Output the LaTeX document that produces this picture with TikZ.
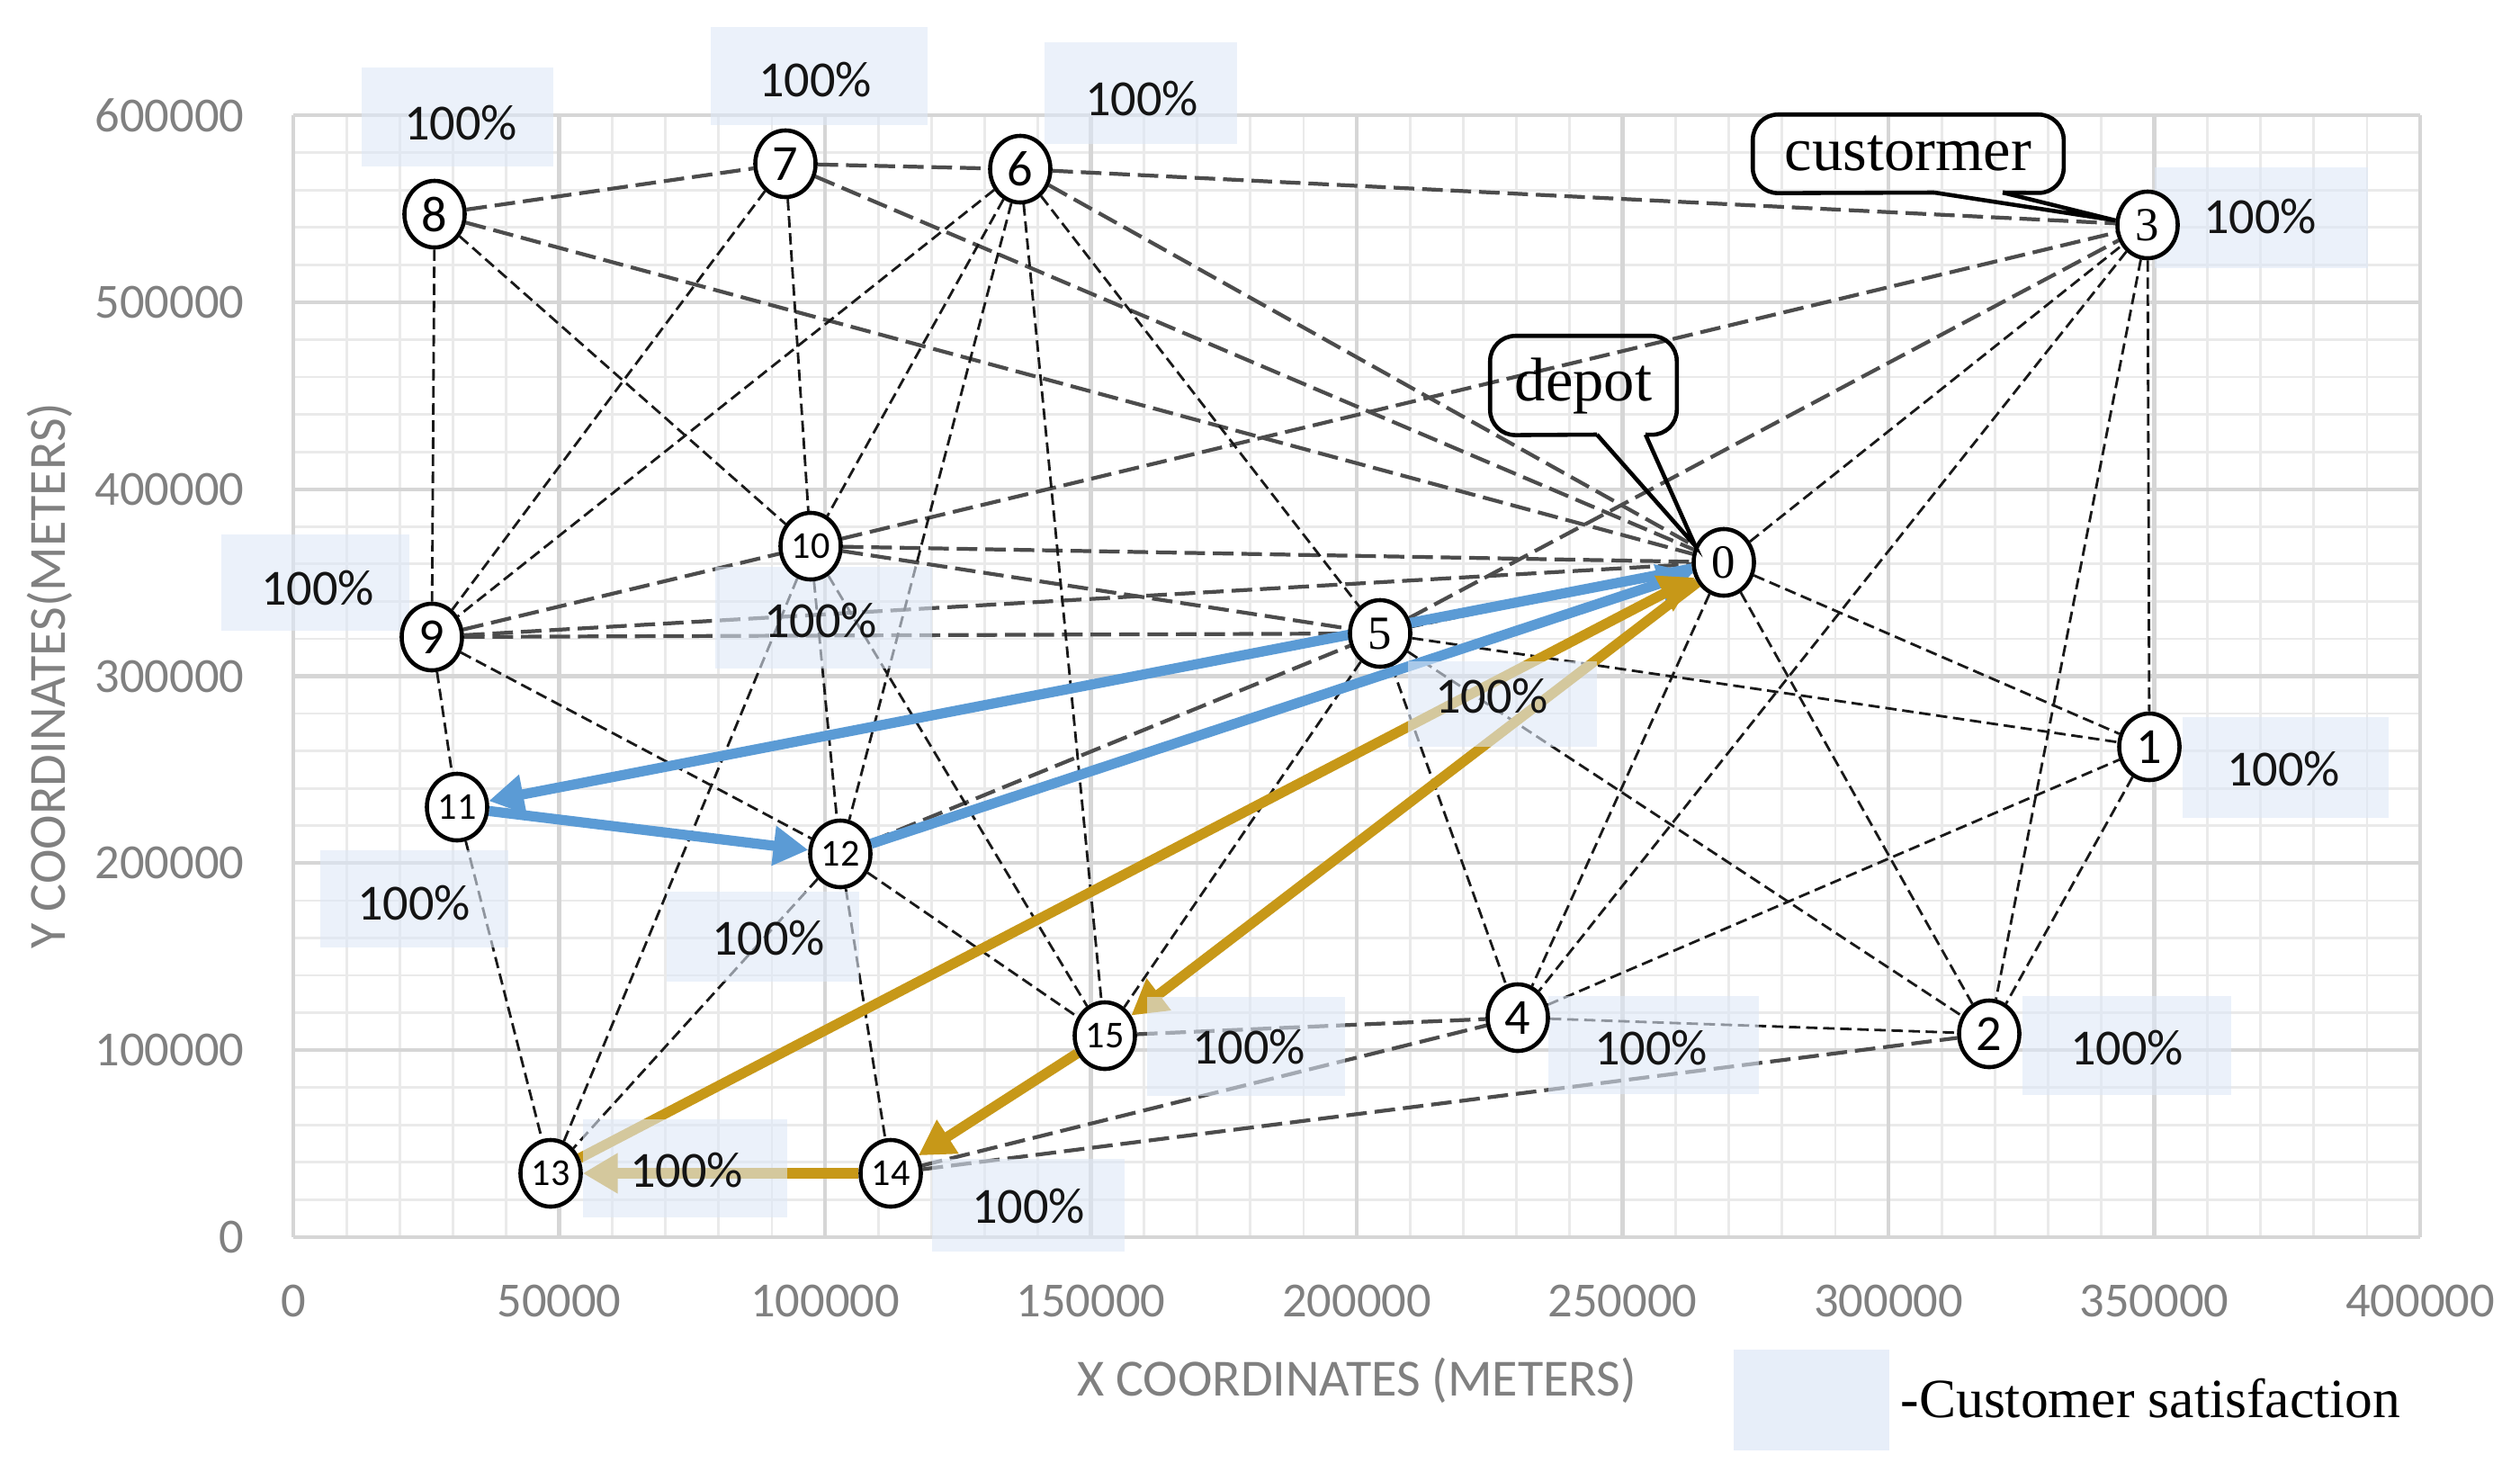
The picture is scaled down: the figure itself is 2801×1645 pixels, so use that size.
\documentclass[tikz,border=0pt]{standalone}
\usepackage{fontspec}
\setmainfont{Carlito}
\newfontfamily\tnr{Liberation Serif}
\usetikzlibrary{shapes.geometric,arrows.meta}
\pgfdeclarelayer{gridlayer}
\pgfdeclarelayer{edgelayer}
\pgfdeclarelayer{boxlayer}
\pgfsetlayers{gridlayer,edgelayer,boxlayer,main}
\definecolor{myblue}{RGB}{91,155,213}
\definecolor{mygold}{RGB}{199,152,24}
\definecolor{pale}{RGB}{222,232,247}
\definecolor{gmaj}{RGB}{214,214,214}
\definecolor{gmin}{RGB}{234,234,234}
\definecolor{tickgray}{RGB}{128,128,128}
\begin{document}
\begin{tikzpicture}[x=0.01cm,y=-0.01cm,
  cn/.style={ellipse, draw=black, line width=1.3pt, fill=white, minimum width=0.67cm, minimum height=0.74cm, inner sep=0pt, font=\fontsize{16pt}{18pt}\selectfont},
  cnb/.style={cn, font=\fontsize{12pt}{14pt}\selectfont},
  cns/.style={cn, font=\tnr\fontsize{15pt}{17pt}\selectfont},
  thk/.style={draw=black!70, line width=1.2pt, dash pattern=on 6.5pt off 2.5pt},
  thn/.style={draw=black!90, line width=0.8pt, dash pattern=on 3.6pt off 1.8pt},
  barr/.style={draw=myblue, line width=3.2pt, -{Triangle[length=11pt,width=12pt]}},
  garr/.style={draw=mygold, line width=3.2pt, -{Triangle[length=11pt,width=12pt]}},
  pbox/.style={fill=pale, fill opacity=0.6, draw=none},
  ptxt/.style={font=\fontsize{16pt}{18pt}\selectfont, text=black!92, inner sep=0pt},
  tick/.style={font=\fontsize{15.5pt}{17pt}\selectfont, text=tickgray, inner sep=0pt},
  atitle/.style={font=\fontsize{16.5pt}{18pt}\selectfont, text=tickgray, inner sep=0pt},
  gminor/.style={draw=gmin, line width=0.8pt},
  gmajor/.style={draw=gmaj, line width=1.2pt},
  callbox/.style={draw=none, minimum width=#1, inner sep=0pt, font=\tnr\fontsize{19.5pt}{22pt}\selectfont},
  outl/.style={draw=black, line width=1.3pt}
]
\useasboundingbox (0,0) rectangle (2801,1645);

% ---------- grid ----------
\begin{pgfonlayer}{gridlayer}
\fill[white] (0,0) rectangle (2801,1645);
\foreach \i in {0,...,40} \draw[gminor] ({326+\i*59.1},128) -- ({326+\i*59.1},1375);
\foreach \j in {0,...,30} \draw[gminor] (326,{1375-\j*41.5667}) -- (2690,{1375-\j*41.5667});
\foreach \i in {0,...,8} \draw[gmajor] ({326+\i*295.5},128) -- ({326+\i*295.5},1375);
\foreach \j in {0,...,6} \draw[gmajor] (326,{1375-\j*207.833}) -- (2690,{1375-\j*207.833});
\end{pgfonlayer}

% ---------- tick labels and axis titles ----------
\foreach \v [count=\k from 0] in {0,50000,100000,150000,200000,250000,300000,350000,400000}
  \node[tick] (xt\k) at ({326+\k*295.5},1446) {\v};
\foreach \v [count=\k from 0] in {0,100000,200000,300000,400000,500000,600000}
  \node[tick, anchor=east] (yt\k) at (272,{1375-\k*207.833}) {\v};
\node[atitle, rotate=90] (ytitle) at (55,751) {Y COORDINATES(METERS)};
\node[atitle] (xtitle) at (1508,1534) {X COORDINATES (METERS)};

% ---------- customer nodes ----------
\node[cns] (n0) at (1916,625) {0};
\node[cn]  (n1) at (2389,830) {1};
\node[cn]  (n2) at (2211,1149) {2};
\node[cns] (n3) at (2387,250) {3};
\node[cn]  (n4) at (1687,1131) {4};
\node[cns] (n5) at (1534,704) {5};
\node[cn]  (n6) at (1134,188) {6};
\node[cn]  (n7) at (873,182) {7};
\node[cn]  (n8) at (483,238) {8};
\node[cn]  (n9) at (480,708) {9};
\node[cnb] (n10) at (901,607) {10};
\node[cnb] (n11) at (508,897) {11};
\node[cnb] (n12) at (934,949) {12};
\node[cnb] (n13) at (612,1304) {13};
\node[cnb] (n14) at (990,1304) {14};
\node[cnb] (n15) at (1228,1151) {15};

% ---------- dashed connections ----------
\begin{pgfonlayer}{edgelayer}
\foreach \a/\b in {8/7,7/6,6/3,8/0,7/0,6/0,9/10,10/3,10/0,10/5,9/0,9/5,5/3,12/5,15/4,14/4,14/2}
  \draw[thk] (n\a) -- (n\b);
\foreach \a/\b in {8/9,8/10,7/9,7/10,6/9,6/10,6/12,6/15,6/5,9/11,9/12,11/13,10/13,12/13,10/12,12/14,12/15,10/15,5/15,5/4,5/0,5/1,5/2,0/3,0/1,0/2,0/4,3/4,3/2,3/1,4/1,4/2,1/2}
  \draw[thn] (n\a) -- (n\b);
% routes
\draw[barr] (n0) -- (n11);
\draw[barr] (n11) -- (n12);
\draw[barr] (n12) -- (n0);
\draw[garr] (n0) -- (n15);
\draw[garr] (n15) -- (n14);
\draw[garr] (n14) -- (n13);
\draw[garr] (n13) -- (n0);
\end{pgfonlayer}

% ---------- satisfaction boxes ----------
\begin{pgfonlayer}{boxlayer}
\fill[pbox] (402,75) rectangle (615,185);
\fill[pbox] (790,30) rectangle (1031,139);
\fill[pbox] (1161,47) rectangle (1375,160);
\fill[pbox] (2395,186) rectangle (2632,298);
\fill[pbox] (246,594) rectangle (455,701);
\fill[pbox] (795,630) rectangle (1036,743);
\fill[pbox] (1565,735) rectangle (1775,830);
\fill[pbox] (2426,797) rectangle (2655,909);
\fill[pbox] (356,945) rectangle (565,1053);
\fill[pbox] (741,991) rectangle (955,1091);
\fill[pbox] (1275,1108) rectangle (1495,1218);
\fill[pbox] (1721,1107) rectangle (1955,1216);
\fill[pbox] (2248,1107) rectangle (2480,1217);
\fill[pbox] (648,1244) rectangle (875,1353);
\fill[pbox] (1036,1288) rectangle (1250,1391);
\fill[fill=pale, fill opacity=0.7] (1927,1500) rectangle (2100,1612);
\end{pgfonlayer}

% ---------- percentages ----------
\node[ptxt] (p8)  at (512,137)  {100\%};
\node[ptxt] (p7)  at (906,89)   {100\%};
\node[ptxt] (p6)  at (1269,110) {100\%};
\node[ptxt] (p3)  at (2512,241) {100\%};
\node[ptxt] (p9)  at (353,654)  {100\%};
\node[ptxt] (p10) at (912,690)  {100\%};
\node[ptxt] (p5)  at (1658,774) {100\%};
\node[ptxt] (p1)  at (2538,855) {100\%};
\node[ptxt] (p11) at (460,1004) {100\%};
\node[ptxt] (p12) at (854,1043) {100\%};
\node[ptxt] (p15) at (1388,1164) {100\%};
\node[ptxt] (p4)  at (1835,1165) {100\%};
\node[ptxt] (p2)  at (2364,1165) {100\%};
\node[ptxt] (p13) at (763,1301) {100\%};
\node[ptxt] (p14) at (1143,1341) {100\%};

% ---------- legend ----------
\node[anchor=west, inner sep=0pt, font=\tnr\fontsize{17.5pt}{20pt}\selectfont] (legt) at (2112,1554) {-Customer satisfaction};

% ---------- callouts ----------
\node[callbox=3.44cm, minimum height=0.86cm] (cust) at (2121,171) {custormer};
\coordinate (cb1) at (2150,214);
\coordinate (cb2) at (2226,214);
\draw[outl, rounded corners=8pt] (cb2) -- (cust.south east) -- (cust.north east) -- (cust.north west) -- (cust.south west) -- (cb1);
\draw[outl] (cb1) -- (n3.172) -- (cb2);

\node[callbox=2.06cm, minimum height=1.09cm] (dep) at (1760,428.5) {depot};
\coordinate (db1) at (1775,483);
\coordinate (db2) at (1829,483);
\draw[outl, rounded corners=8pt] (db2) -- (dep.south east) -- (dep.north east) -- (dep.north west) -- (dep.south west) -- (db1);
\draw[outl] (db1) -- (n0.150) -- (db2);
\end{tikzpicture}
\end{document}
